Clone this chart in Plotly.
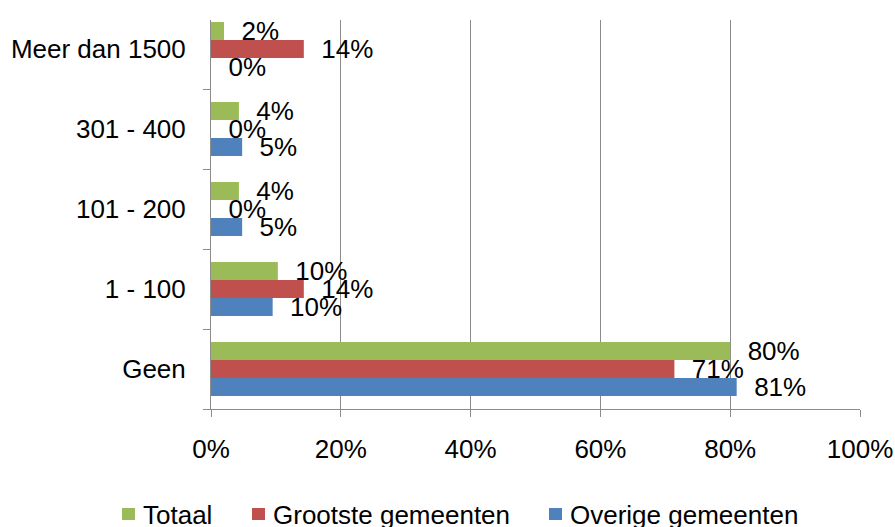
import plotly.graph_objects as go

categories = ["Geen", "1 - 100", "101 - 200", "301 - 400", "Meer dan 1500"]
totaal = [0.80, 0.103, 0.043, 0.043, 0.02]
grootste = [0.714, 0.143, 0.0, 0.0, 0.143]
overige = [0.81, 0.095, 0.048, 0.048, 0.0]
x_ticks = [0, 0.2, 0.4, 0.6, 0.8, 1.0]
x_ticktext = ["0%", "20%", "40%", "60%", "80%", "100%"]
legend_names = ["Totaal", "Grootste gemeenten", "Overige gemeenten"]
legend_colors = ["#9BBB59", "#C0504D", "#4F81BD"]

FONT = "Liberation Sans, Arial, sans-serif"
series = [
    ("Overige gemeenten", overige, "#4F81BD"),
    ("Grootste gemeenten", grootste, "#C0504D"),
    ("Totaal", totaal, "#9BBB59"),
]

# plot area in pixels: x 211..860, y 20..409
L, R, T, B = 211, 860, 20, 409
def px(xp):
    return (xp - L) / (R - L)
def py(yp):
    return (B - yp) / (B - T)

fig = go.Figure()
for name, vals, color in series:
    fig.add_trace(go.Bar(
        y=categories, x=vals, name=name, orientation="h",
        marker=dict(color=color, line=dict(width=0)),
        texttemplate="  %{x:.0%}", textposition="outside",
        textfont=dict(family=FONT, size=26, color="black"),
        constraintext="none", cliponaxis=False, showlegend=False,
    ))

# legend (drawn as boxes + labels, as in the original Excel legend)
legend_marker_x = [122, 252, 549]
for name, color, mx in zip(legend_names, legend_colors, legend_marker_x):
    fig.add_shape(type="rect", xref="paper", yref="paper",
                  x0=px(mx), x1=px(mx + 13), y0=py(520), y1=py(508),
                  fillcolor=color, line=dict(width=0), layer="above")
    fig.add_annotation(xref="paper", yref="paper", x=px(mx + 19), y=py(515),
                       xanchor="left", yanchor="middle", text=name, showarrow=False,
                       font=dict(family=FONT, size=26, color="black"))

fig.update_layout(
    width=895, height=527,
    margin=dict(l=L, r=895 - R, t=T, b=527 - B, autoexpand=False),
    paper_bgcolor="white", plot_bgcolor="white",
    barmode="group", bargap=0.325, bargroupgap=0,
    font=dict(family=FONT, size=26, color="black"),
    showlegend=False,
    xaxis=dict(range=[0, 1.0], tickvals=x_ticks, ticktext=x_ticktext,
               showgrid=True, gridcolor="#8C8C8C", gridwidth=1,
               showline=True, linecolor="#8C8C8C", linewidth=1,
               ticks="outside", ticklen=7, tickcolor="#8C8C8C",
               ticklabelstandoff=10, zeroline=False, fixedrange=True, automargin=False),
    yaxis=dict(type="category", categoryorder="array", categoryarray=categories,
               range=[-0.5, 4.3625], tickson="boundaries",
               showgrid=False, showline=True, linecolor="#8C8C8C", linewidth=1,
               ticks="outside", ticklen=7, tickcolor="#8C8C8C",
               ticklabelstandoff=19, fixedrange=True, automargin=False),
)

fig.write_html("out.html", config={"displayModeBar": False},
               post_script="document.body.style.margin='0';document.body.style.overflow='hidden';")
